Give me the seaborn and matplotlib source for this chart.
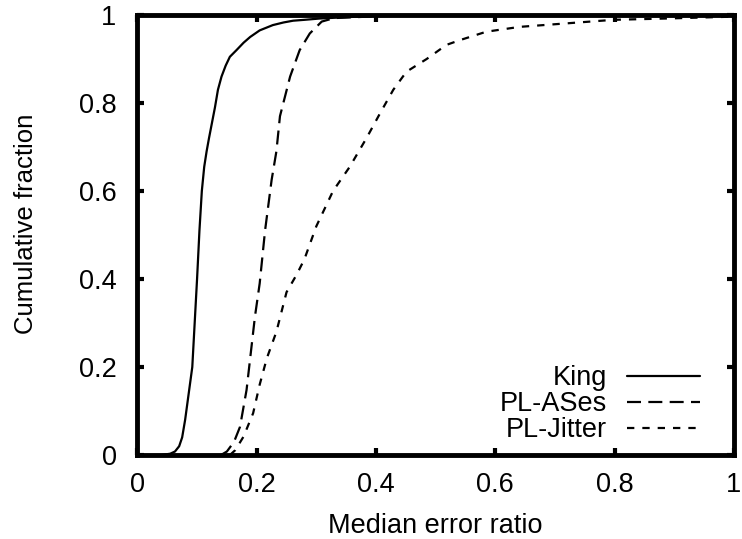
import matplotlib
matplotlib.use("Agg")
import matplotlib.pyplot as plt
import numpy as np
import pandas as pd
import seaborn as sns

# CDF points
king_x = [0.0, 0.04, 0.055, 0.063, 0.07, 0.075, 0.08, 0.085, 0.089, 0.092, 0.096, 0.10,
          0.104, 0.108, 0.112, 0.116, 0.12, 0.125, 0.13, 0.135, 0.141, 0.148, 0.155,
          0.166, 0.178, 0.189, 0.205, 0.227, 0.245, 0.261, 0.28, 0.306, 0.35, 0.40,
          0.6, 1.0]
king_y = [0.0, 0.0, 0.003, 0.008, 0.02, 0.04, 0.08, 0.13, 0.17, 0.2, 0.3, 0.4,
          0.51, 0.6, 0.655, 0.69, 0.72, 0.755, 0.79, 0.83, 0.86, 0.885, 0.905,
          0.92, 0.937, 0.95, 0.965, 0.977, 0.983, 0.987, 0.989, 0.992, 0.995, 0.998,
          1.0, 1.0]

ases_x = [0.14, 0.15, 0.162, 0.172, 0.183, 0.197, 0.205, 0.214, 0.225, 0.233, 0.239,
          0.256, 0.272, 0.289, 0.309, 0.33, 0.4, 0.5, 1.0]
ases_y = [0.0, 0.008, 0.03, 0.064, 0.148, 0.314, 0.39, 0.51, 0.625, 0.69, 0.77,
          0.86, 0.92, 0.958, 0.985, 0.993, 0.997, 1.0, 1.0]

jitter_x = [0.155, 0.164, 0.178, 0.194, 0.205, 0.217, 0.233, 0.25, 0.267, 0.28, 0.30,
            0.328, 0.356, 0.384, 0.407, 0.429, 0.451, 0.485, 0.518, 0.541, 0.585,
            0.641, 0.72, 0.798, 0.887, 0.993, 1.0]
jitter_y = [0.0, 0.011, 0.042, 0.095, 0.16, 0.22, 0.28, 0.37, 0.41, 0.445, 0.52,
            0.60, 0.655, 0.72, 0.777, 0.83, 0.871, 0.90, 0.932, 0.943, 0.962,
            0.973, 0.981, 0.989, 0.992, 0.996, 0.997]

series = [("King", king_x, king_y, "-"),
          ("PL-ASes", ases_x, ases_y, (0, (6.3, 3.3))),
          ("PL-Jitter", jitter_x, jitter_y, (0, (3.3, 3.6)))]

ticks = [0, 0.2, 0.4, 0.6, 0.8, 1]
tick_labels = ["0", "0.2", "0.4", "0.6", "0.8", "1"]

sns.set_style("ticks", {"axes.edgecolor": "black", "text.color": "black",
                        "axes.labelcolor": "black", "xtick.color": "black",
                        "ytick.color": "black"})
plt.rcParams["font.family"] = ["Liberation Sans", "DejaVu Sans"]
fs = 19.5

fig = plt.figure(figsize=(7.42, 5.39), dpi=100)
ax = fig.add_axes([0.1852, 0.1558, 0.8038, 0.8164])

for name, xs, ys, ls in series:
    df = pd.DataFrame({"x": xs, "y": ys})
    sns.lineplot(data=df, x="x", y="y", ax=ax, color="black", linewidth=1.6,
                 linestyle=ls, label=name, sort=False, estimator=None)

ax.set_xlim(0, 1)
ax.set_ylim(0, 1)
ax.set_xticks(ticks)
ax.set_xticklabels(tick_labels)
ax.set_yticks(ticks)
ax.set_yticklabels(tick_labels)
ax.set_xlabel("Median error ratio", fontsize=fs, va="baseline")
ax.set_ylabel("Cumulative fraction", fontsize=18.5, va="baseline")
ax.xaxis.set_label_coords(0.5, -0.177)
ax.yaxis.set_label_coords(-0.175, 0.525)
ax.tick_params(direction="in", length=5, width=3, labelsize=fs,
               top=True, right=True, colors="black")
ax.tick_params(axis="x", pad=12.5)
ax.tick_params(axis="y", pad=15)
for sp in ax.spines.values():
    sp.set_linewidth(3.5)
    sp.set_color("black")
    sp.set_visible(True)

ax.legend(loc="lower right", markerfirst=False, frameon=False, fontsize=fs,
          handlelength=2.7, handletextpad=0.74, labelspacing=0.0,
          borderaxespad=0.0, borderpad=0.0, bbox_to_anchor=(0.943, 0.027))

fig.savefig("out.png", dpi=100)
